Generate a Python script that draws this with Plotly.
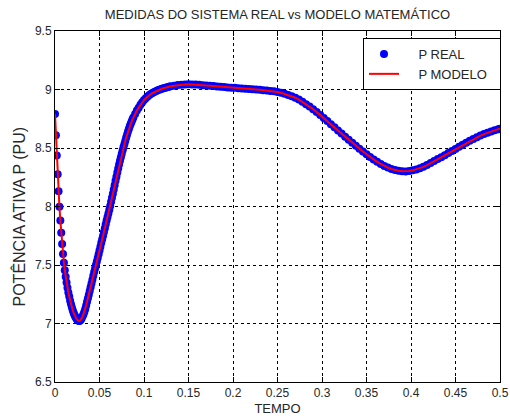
import plotly.graph_objects as go

# ---- data ----
t_early = [0.000, 0.001, 0.002, 0.003, 0.004, 0.005, 0.006, 0.007, 0.008, 0.009,
           0.010, 0.011, 0.012, 0.013, 0.014, 0.015, 0.016, 0.017, 0.018, 0.019,
           0.020, 0.021, 0.022, 0.023, 0.024, 0.025, 0.026, 0.027, 0.028, 0.029, 0.030]
p_early = [8.79, 8.61, 8.435, 8.275, 8.13, 7.997, 7.88, 7.775, 7.68, 7.595,
           7.52, 7.455, 7.40, 7.35, 7.305, 7.265, 7.23, 7.195, 7.165, 7.137,
           7.112, 7.09, 7.071, 7.055, 7.042, 7.032, 7.025, 7.022, 7.024, 7.032, 7.045]

t_rise = [0.031, 0.032, 0.033, 0.034, 0.035, 0.036, 0.037, 0.038, 0.039, 0.040,
          0.041, 0.042, 0.043, 0.044, 0.045, 0.046, 0.047, 0.048, 0.049, 0.050,
          0.051, 0.052, 0.053, 0.054, 0.055, 0.056, 0.057, 0.058, 0.059, 0.060,
          0.061, 0.062, 0.063, 0.064, 0.065, 0.066, 0.067, 0.068, 0.069, 0.070,
          0.071, 0.072, 0.073, 0.074, 0.075, 0.076, 0.077, 0.078, 0.079, 0.080,
          0.081, 0.082, 0.083, 0.084, 0.085, 0.086, 0.087, 0.088]
p_rise = [7.061, 7.08, 7.101, 7.125, 7.154, 7.185, 7.215, 7.245, 7.277, 7.31,
          7.342, 7.375, 7.408, 7.44, 7.47, 7.50, 7.53, 7.56, 7.592, 7.625,
          7.657, 7.69, 7.72, 7.75, 7.782, 7.815, 7.848, 7.88, 7.91, 7.94,
          7.972, 8.005, 8.04, 8.075, 8.11, 8.145, 8.182, 8.22, 8.255, 8.29,
          8.325, 8.36, 8.39, 8.42, 8.45, 8.48, 8.508, 8.535, 8.563, 8.59,
          8.615, 8.64, 8.663, 8.685, 8.705, 8.725, 8.743, 8.76]

t_peak = [0.090, 0.092, 0.094, 0.096, 0.098, 0.100, 0.102, 0.104, 0.106, 0.108,
          0.110, 0.112, 0.114, 0.116, 0.118, 0.120, 0.122, 0.124, 0.126, 0.128, 0.130]
p_peak = [8.79, 8.82, 8.845, 8.87, 8.89, 8.91, 8.925, 8.94, 8.952, 8.963,
          8.972, 8.98, 8.988, 8.995, 9.0, 9.006, 9.011, 9.016, 9.02, 9.024, 9.028]

t_late = [0.134, 0.138, 0.142, 0.146, 0.150, 0.154, 0.158, 0.162, 0.166, 0.170,
          0.174, 0.178, 0.182, 0.186, 0.190, 0.194, 0.198, 0.202, 0.206, 0.210,
          0.214, 0.218, 0.222, 0.226, 0.230, 0.234, 0.238, 0.242, 0.246, 0.250,
          0.254, 0.258, 0.262, 0.266, 0.270, 0.274, 0.278, 0.282, 0.286, 0.290,
          0.294, 0.298, 0.302, 0.306, 0.310, 0.314, 0.318, 0.322, 0.326, 0.330,
          0.334, 0.338, 0.342, 0.346, 0.350, 0.354, 0.358, 0.362, 0.366, 0.370,
          0.374, 0.378, 0.382, 0.386, 0.390, 0.394, 0.398, 0.402, 0.406, 0.410,
          0.414, 0.418, 0.422, 0.426, 0.430, 0.434, 0.438, 0.442, 0.446, 0.450,
          0.454, 0.458, 0.462, 0.466, 0.470, 0.474, 0.478, 0.482, 0.486, 0.490,
          0.494, 0.498, 0.500]
p_late = [9.033, 9.038, 9.041, 9.043, 9.044, 9.043, 9.042, 9.04, 9.037, 9.035,
          9.032, 9.029, 9.026, 9.023, 9.021, 9.018, 9.016, 9.014, 9.011, 9.009,
          9.007, 9.004, 9.002, 8.999, 8.997, 8.994, 8.992, 8.988, 8.984, 8.978,
          8.972, 8.963, 8.953, 8.942, 8.93, 8.914, 8.895, 8.875, 8.855, 8.832,
          8.808, 8.783, 8.757, 8.73, 8.703, 8.677, 8.65, 8.624, 8.597, 8.571,
          8.545, 8.52, 8.494, 8.47, 8.447, 8.424, 8.402, 8.382, 8.364, 8.347,
          8.333, 8.321, 8.311, 8.305, 8.301, 8.3, 8.303, 8.309, 8.317, 8.327,
          8.339, 8.354, 8.371, 8.389, 8.405, 8.422, 8.439, 8.457, 8.474, 8.492,
          8.51, 8.527, 8.544, 8.561, 8.577, 8.592, 8.606, 8.619, 8.631, 8.642,
          8.652, 8.661, 8.665]

tempo = t_early + t_rise + t_peak + t_late
p_real = p_early + p_rise + p_peak + p_late
p_modelo = p_early + p_rise + p_peak + p_late

x_ticks = [0, 0.05, 0.1, 0.15, 0.2, 0.25, 0.3, 0.35, 0.4, 0.45, 0.5]
x_labels = ["0", "0.05", "0.1", "0.15", "0.2", "0.25", "0.3", "0.35", "0.4", "0.45", "0.5"]
y_ticks = [6.5, 7, 7.5, 8, 8.5, 9, 9.5]
y_labels = ["6.5", "7", "7.5", "8", "8.5", "9", "9.5"]

FONT = "Liberation Sans, Arial, sans-serif"
TXT = "#262626"
NB = "\u00a0"

fig = go.Figure()
fig.add_trace(go.Scatter(x=tempo, y=p_real, mode="markers", name=NB * 4 + "P REAL",
                         marker=dict(color="#0000ff", size=8, line=dict(width=0))))
fig.add_trace(go.Scatter(x=tempo, y=p_modelo, mode="lines", name=NB * 4 + "P MODELO" + NB * 2,
                         line=dict(color="#ff0000", width=2)))

axis_common = dict(showline=True, linecolor="black", linewidth=1, mirror="allticks",
                   ticks="inside", ticklen=5, tickcolor="black", tickwidth=1,
                   showgrid=True, gridcolor="black", gridwidth=1, griddash="3px,3px",
                   zeroline=False, tickfont=dict(family=FONT, size=12, color=TXT))

fig.update_xaxes(range=[0, 0.5], tickmode="array", tickvals=x_ticks, ticktext=x_labels,
                 title=dict(text="TEMPO", font=dict(family=FONT, size=13, color=TXT), standoff=4),
                 **axis_common)
fig.update_yaxes(range=[6.5, 9.5], tickmode="array", tickvals=y_ticks, ticktext=y_labels,
                 **axis_common)

fig.add_annotation(text="POTÊNCIA ATIVA P (PU)", textangle=-90, showarrow=False,
                   xref="paper", yref="paper", x=(18.5 - 55) / 445, y=(382 - 217) / 351,
                   xanchor="center", yanchor="middle",
                   font=dict(family=FONT, size=16, color=TXT))

fig.update_layout(
    width=510, height=417,
    margin=dict(l=55, r=10, t=31, b=35, autoexpand=False),
    paper_bgcolor="white", plot_bgcolor="white",
    title=dict(text="MEDIDAS DO SISTEMA REAL vs MODELO MATEMÁTICO",
               font=dict(family=FONT, size=13, color=TXT),
               x=(55 + 500) / 2 / 510, xanchor="center", y=1 - 14 / 417, yanchor="middle"),
    legend=dict(x=(363 - 55) / 445, y=(382 - 38) / 351, xanchor="left", yanchor="top",
                bgcolor="white", bordercolor="black", borderwidth=1,
                font=dict(family=FONT, size=13, color=TXT),
                tracegroupgap=0),
    showlegend=True,
)

fig.write_html("out.html")
